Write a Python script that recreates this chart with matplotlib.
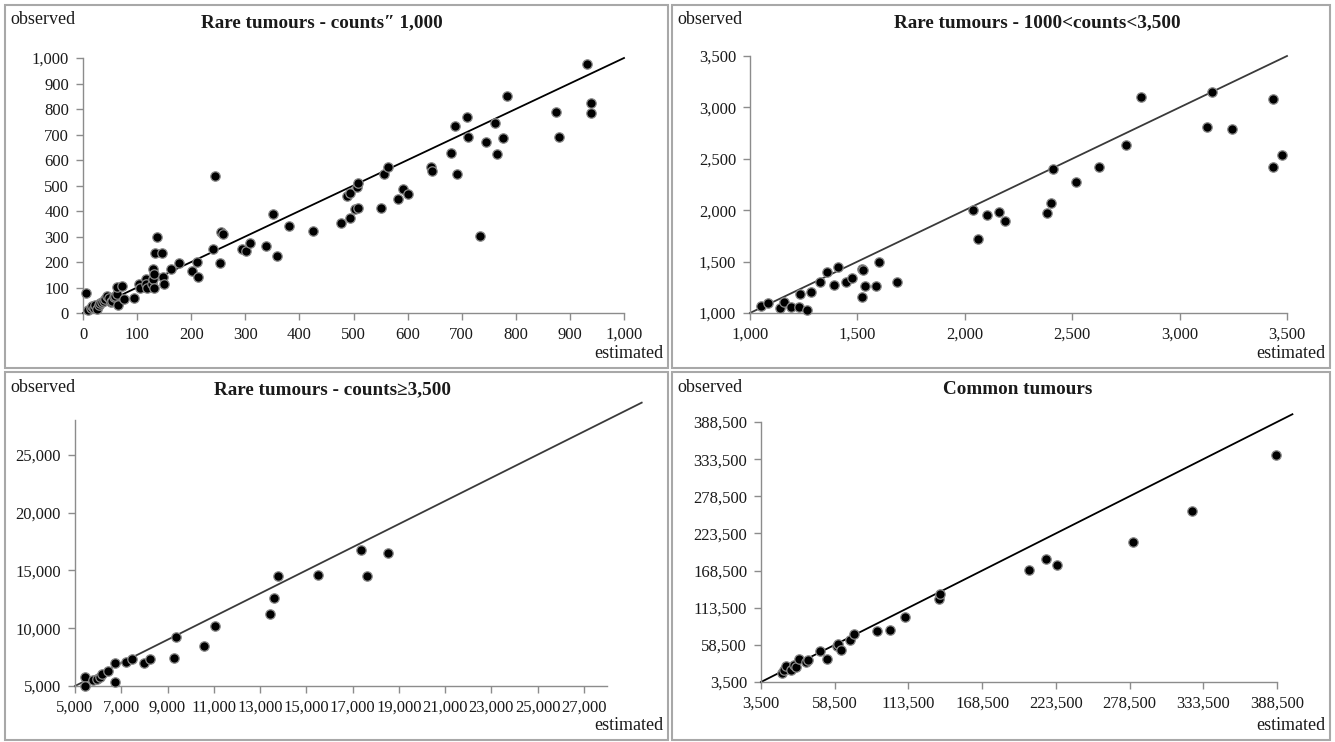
import numpy as np
import matplotlib
matplotlib.use("Agg")
from matplotlib import pyplot as plt
from matplotlib.ticker import FuncFormatter
from matplotlib.patches import Rectangle

plt.rcParams['font.family'] = ['Liberation Serif', 'DejaVu Serif']

# rare tumours, counts <= 1,000
rare1_est = [5, 9, 14, 17, 20, 23, 26, 29, 32, 35, 38, 41, 44, 48, 51, 54, 57, 60, 63,
             63, 64, 73, 75, 94, 103, 106, 116, 117, 119, 128, 129, 130, 131, 131,
             136, 134, 146, 148, 149, 162, 178, 202, 211, 213, 241, 244, 253, 255,
             259, 293, 301, 309, 338, 352, 358, 380, 426, 476, 488, 493, 494, 502,
             506, 509, 509, 551, 557, 564, 583, 591, 600, 644, 645, 680, 688, 691,
             709, 712, 733, 744, 761, 766, 776, 783, 875, 879, 932, 939, 939]
rare1_obs = [78, 13, 19, 27, 19, 30, 17, 32, 39, 43, 49, 55, 65, 58, 43, 49, 62, 68, 75,
             101, 30, 105, 55, 59, 114, 97, 135, 114, 97, 114, 135, 174, 152, 97,
             298, 234, 234, 143, 112, 174, 195, 163, 200, 141, 250, 537, 196, 316,
             309, 250, 245, 276, 263, 390, 222, 343, 321, 353, 460, 469, 372, 408,
             495, 508, 411, 411, 544, 574, 447, 485, 465, 574, 558, 626, 733, 545,
             767, 690, 303, 672, 746, 623, 686, 850, 787, 691, 978, 822, 786]

# rare tumours, 1000 < counts < 3,500
rare2_est = [1050, 1083, 1139, 1157, 1192, 1226, 1232, 1264, 1282, 1325, 1359, 1391,
             1411, 1446, 1474, 1520, 1524, 1520, 1534, 1585, 1599, 1683, 2040, 2060,
             2103, 2157, 2185, 2383, 2403, 2409, 2516, 2623, 2752, 2819, 3129, 3153,
             3242, 3437, 3437, 3476]
rare2_obs = [1071, 1097, 1045, 1103, 1061, 1061, 1181, 1032, 1206, 1300, 1400, 1268,
             1452, 1300, 1339, 1426, 1416, 1155, 1265, 1265, 1500, 1306, 2000, 1723,
             1955, 1981, 1897, 1977, 2071, 2397, 2271, 2419, 2632, 3103, 2806, 3152,
             2790, 3081, 2416, 2539]

# rare tumours, counts >= 3,500
rare3_est = [5450, 5450, 5790, 5960, 6090, 6185, 6410, 6750, 6710, 7220, 7445, 7990,
             8235, 9290, 9365, 10565, 11055, 13425, 13610, 13780, 15510, 17370,
             17615, 18520]
rare3_obs = [5785, 5000, 5525, 5580, 5815, 6075, 6310, 7005, 5350, 7065, 7325, 7005,
             7325, 7440, 9275, 8490, 10175, 11190, 12645, 14535, 14620, 16800,
             14535, 16540]

# common tumours
common_est = [18960, 20540, 22430, 25590, 27800, 29690, 31900, 37265, 38530, 47360,
              52410, 59985, 60930, 63140, 70080, 72920, 89960, 99750, 111100, 136350,
              136980, 203560, 215870, 224700, 281190, 325370, 388000]
common_obs = [16880, 20840, 27290, 21840, 28280, 25800, 37690, 33230, 36700, 49090,
              37200, 56520, 60490, 51570, 66430, 73870, 78330, 79810, 99140, 125900,
              133820, 169500, 185360, 176440, 210630, 257210, 338980]

W, H = 1335, 742
fig = plt.figure(figsize=(W / 100, H / 100), dpi=100)


def px_axes(x0, y0, x1, y1):
    # pixel box (left, top, right, bottom) -> figure fraction
    return fig.add_axes([x0 / W, 1 - y1 / H, (x1 - x0) / W, (y1 - y0) / H])


fmt = FuncFormatter(lambda v, p: f"{v:,.0f}")

panels = [
    dict(box=(5, 5, 668, 368), ax=(83, 58, 624, 313), est=rare1_est, obs=rare1_obs,
         lim=(0, 1000, 0, 1000), xt=np.arange(0, 1001, 100), yt=np.arange(0, 1001, 100),
         line=(0, 1000), lc='black', title="Rare tumours - counts\u2033 1,000", tx=322),
    dict(box=(672, 5, 1330, 368), ax=(750, 56, 1287, 313), est=rare2_est, obs=rare2_obs,
         lim=(1000, 3500, 1000, 3500), xt=np.arange(1000, 3501, 500),
         yt=np.arange(1000, 3501, 500), line=(1000, 3500), lc='#3a3a3a',
         title="Rare tumours - 1000<counts<3,500", tx=1037),
    dict(box=(5, 372, 668, 740), ax=(75, 420, 607, 686), est=rare3_est, obs=rare3_obs,
         lim=(5000, 28000, 5000, 28000), xt=np.arange(5000, 27001, 2000),
         yt=np.arange(5000, 25001, 5000), line=(5000, 29500), lc='#3a3a3a',
         title="Rare tumours - counts\u22653,500", tx=333),
    dict(box=(672, 372, 1330, 740), ax=(761, 422, 1277, 682), est=common_est,
         obs=common_obs, lim=(3500, 388500, 3500, 388500),
         xt=np.arange(3500, 388501, 55000), yt=np.arange(3500, 388501, 55000),
         line=(3500, 400000), lc='black', title="Common tumours", tx=1018),
]

for p in panels:
    bx0, by0, bx1, by1 = p['box']
    fig.patches.append(Rectangle((bx0 / W, 1 - by1 / H), (bx1 - bx0) / W, (by1 - by0) / H,
                                 transform=fig.transFigure, fill=False,
                                 edgecolor='#a8a8a8', linewidth=1.5))
    ax = px_axes(*p['ax'])
    ax.set_xlim(p['lim'][0], p['lim'][1])
    ax.set_ylim(p['lim'][2], p['lim'][3])
    ax.plot(p['line'], p['line'], color=p['lc'], lw=1.3, clip_on=False, zorder=2)
    ax.scatter(p['est'], p['obs'], s=46, color='black', edgecolors='#8a8a8a',
               linewidths=0.9, zorder=3, clip_on=False)
    ax.set_xticks(p['xt'])
    ax.set_yticks(p['yt'])
    ax.xaxis.set_major_formatter(fmt)
    ax.yaxis.set_major_formatter(fmt)
    for s in ['top', 'right']:
        ax.spines[s].set_visible(False)
    for s in ['left', 'bottom']:
        ax.spines[s].set_color('#8c8c8c')
        ax.spines[s].set_linewidth(1.0)
    ax.tick_params(direction='out', length=5, width=1, color='#8c8c8c',
                   labelsize=12, labelcolor='#1a1a1a', pad=5)
    ax.patch.set_alpha(0)
    fig.text((bx0 + 5) / W, 1 - (by0 + 15) / H, "observed", fontsize=13,
             ha='left', va='center', color='#1a1a1a')
    fig.text((bx1 - 5) / W, 1 - (by1 - 14) / H, "estimated", fontsize=13,
             ha='right', va='center', color='#1a1a1a')
    fig.text(p['tx'] / W, 1 - (by0 + 18) / H, p['title'], fontsize=13.8,
             fontweight='bold', ha='center', va='center', color='#1a1a1a')

fig.savefig("out.png", dpi=100, facecolor='white')
